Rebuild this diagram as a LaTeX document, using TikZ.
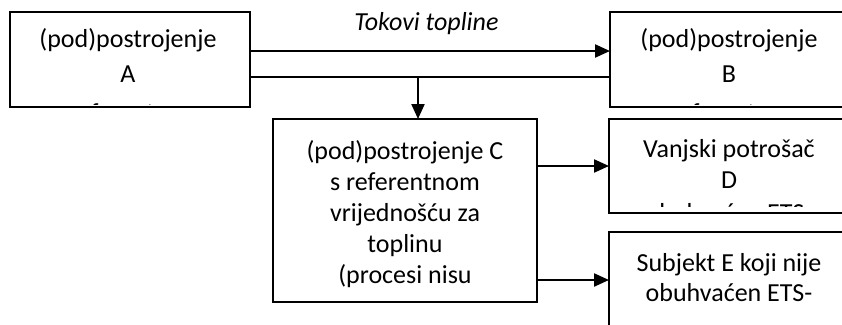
\documentclass[tikz,border=0pt]{standalone}
\usepackage{fontspec}
\setmainfont{Carlito}
\usetikzlibrary{arrows.meta}
\newcommand\boxlines[2]{{\fontsize{26}{#1}\selectfont\begin{tabular}[t]{@{}c@{}}#2\end{tabular}}}
\begin{document}
\begin{tikzpicture}[x=1pt,y=-1pt,
  box/.style={draw, line width=2.2pt, inner sep=0pt, outer sep=0pt},
  txt/.style={inner sep=0pt, outer sep=0pt, anchor=base},
  conn/.style={line width=2.2pt},
  arr/.style={conn, -{Triangle[length=15pt,width=13pt]}},
  lbl/.style={inner sep=0pt, anchor=base, font=\fontsize{26}{31}\selectfont\itshape}]
\useasboundingbox (0,0) rectangle (842,324);
% boxes
\node[box, minimum width=240pt, minimum height=95pt] (A) at (130,59.5) {};
\node[box, minimum width=238pt, minimum height=95pt] (B) at (729,59.5) {};
\node[box, minimum width=264pt, minimum height=183pt] (C) at (405,210.5) {};
\node[box, minimum width=240pt, minimum height=94pt] (D) at (729,166) {};
\node[box, minimum width=240pt, minimum height=96pt] (E) at (729,280) {};
% texts (clipped at the box bottoms)
\begin{scope}
  \clip (A.north west) rectangle ([yshift=3pt]A.south east);
  \node[txt] (At) at (128,47) {\boxlines{35}{(pod)postrojenje\\A\\[4pt]s referentnom}};
\end{scope}
\begin{scope}
  \clip (B.north west) rectangle ([yshift=3pt]B.south east);
  \node[txt] (Bt) at (729,47) {\boxlines{35}{(pod)postrojenje\\B\\[4pt]s referentnom}};
\end{scope}
\node[txt] (Ct) at (405,159) {\boxlines{31}{(pod)postrojenje C\\s referentnom\\vrijednošću za\\toplinu\\(procesi nisu}};
\begin{scope}
  \clip (D.north west) rectangle ([yshift=7pt]D.south east);
  \node[txt] (Dt) at (729,157) {\boxlines{31}{Vanjski potrošač\\D\\[2pt]obuhvaćen ETS-}};
\end{scope}
\node[txt] (Et) at (729,271) {\boxlines{30}{Subjekt E koji nije\\obuhvaćen ETS-}};
% connectors
\draw[arr] ([yshift=8.5pt]A.east) -- node[lbl, pos=0.49, yshift=21pt] (flow) {Tokovi topline} ([yshift=8.5pt]B.west);
\coordinate (l2a) at ([yshift=-17.5pt]A.east);
\coordinate (l2b) at ([yshift=-17.5pt]B.west);
\draw[conn] (l2a) -- (l2b);
\draw[arr] ([xshift=13pt]C.north |- l2a) -- ([xshift=13pt]C.north);
\draw[arr] (C.east |- D.west) -- (D.west);
\draw[arr] (C.east |- E.west) -- (E.west);
\end{tikzpicture}
\end{document}
